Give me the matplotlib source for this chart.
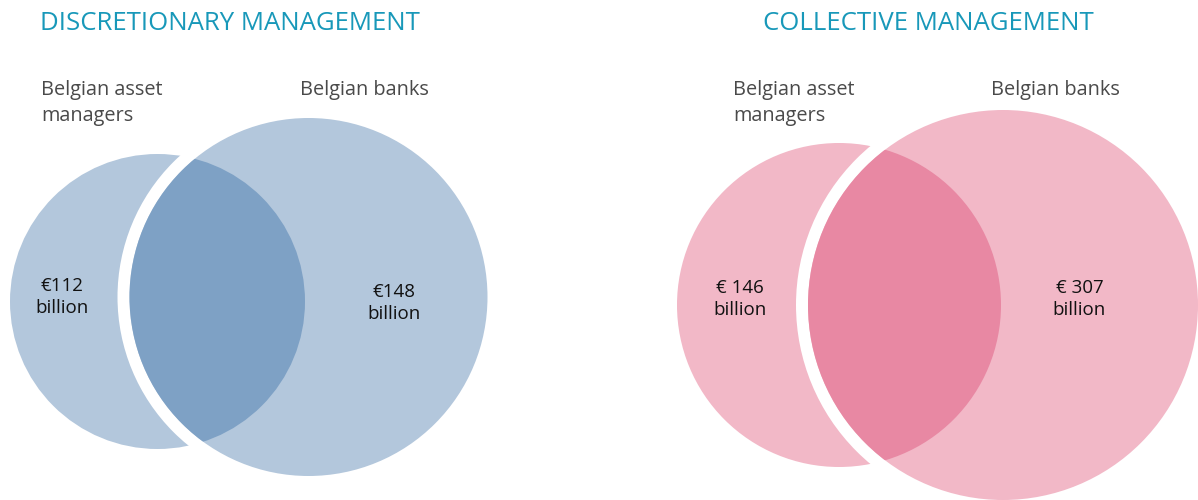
import matplotlib.pyplot as plt
from matplotlib.patches import Circle

# chart data
titles = ['DISCRETIONARY MANAGEMENT', 'COLLECTIVE MANAGEMENT']
group_labels = ['Belgian asset\nmanagers', 'Belgian banks']
managers_values = ['€112', '€ 146']
banks_values = ['€148', '€ 307']
unit = 'billion'

plt.rcParams['font.family'] = ['Open Sans', 'DejaVu Sans']

# layout in pixel coords: (small cx, cy, r), (big cx, cy, r), colours
panels = [
    dict(small=(157.5, 301.5, 147.5), big=(308.5, 297, 179),
         light='#b3c7dc', dark='#7ea1c5', title_x=40,
         lab1_x=41, lab2_x=300, v1=(62, 297), v2=(394, 303)),
    dict(small=(839, 305, 162), big=(1003, 305, 195),
         light='#f2b8c7', dark='#e888a3', title_x=763,
         lab1_x=733, lab2_x=991, v1=(740, 299), v2=(1079.5, 299)),
]
gap = 12

fig = plt.figure(figsize=(11.98, 5.0), dpi=100)
ax = fig.add_axes([0, 0, 1, 1])
ax.set_xlim(0, 1198)
ax.set_ylim(500, 0)
ax.set_aspect('equal')
ax.axis('off')

for i, p in enumerate(panels):
    sx, sy, sr = p['small']
    bx, by, br = p['big']
    # small circle
    ax.add_patch(Circle((sx, sy), sr, color=p['light'], lw=0, zorder=1))
    # white ring around big circle
    ax.add_patch(Circle((bx, by), br + gap, color='white', lw=0, zorder=2))
    # big circle
    ax.add_patch(Circle((bx, by), br, color=p['light'], lw=0, zorder=3))
    # overlap: small circle clipped to big circle
    inter = Circle((sx, sy), sr, color=p['dark'], lw=0, zorder=4)
    ax.add_patch(inter)
    clip = Circle((bx, by), br, transform=ax.transData)
    inter.set_clip_path(clip)

    ax.text(p['title_x'], 23, titles[i], color='#1898b9', fontsize=18.5,
            ha='left', va='center')
    ax.text(p['lab1_x'], 80, group_labels[0], color='#4a4a4a', fontsize=14.3,
            ha='left', va='top', linespacing=1.4)
    ax.text(p['lab2_x'], 80, group_labels[1], color='#4a4a4a', fontsize=14.3,
            ha='left', va='top')
    ax.text(p['v1'][0], p['v1'][1], managers_values[i] + '\n' + unit,
            color='#111111', fontsize=13.5, ha='center', va='center',
            linespacing=1.3, zorder=5)
    ax.text(p['v2'][0], p['v2'][1], banks_values[i] + '\n' + unit,
            color='#111111', fontsize=13.5, ha='center', va='center',
            linespacing=1.3, zorder=5)

plt.savefig('out.png', dpi=100)
